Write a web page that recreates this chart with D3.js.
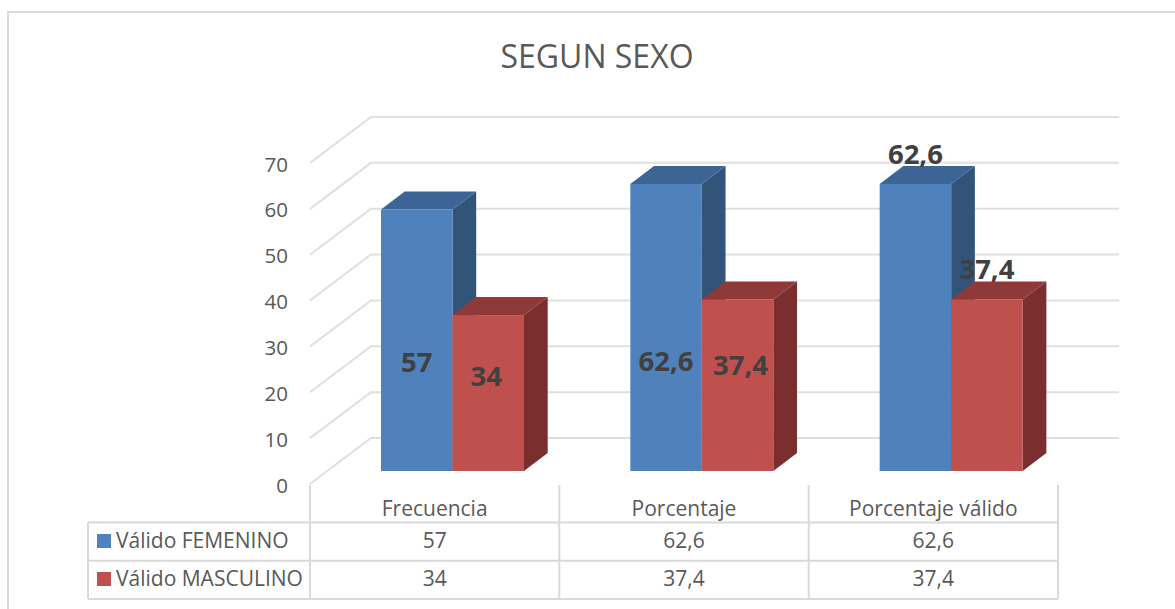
<!DOCTYPE html>
<html>
<head>
  <meta charset="UTF-8">
  <title>SEGUN SEXO</title>
  <script src="https://d3js.org/d3.v7.min.js"></script>
  <style>
    body { margin: 0; padding: 0; background: #fff; font-family: "Open Sans", sans-serif; }
    svg { display: block; }
    .soft { filter: blur(0.45px); }
    .grid-line { stroke: #dfdfdf; stroke-width: 2; fill: none; }
    .table-line { stroke: #d9d9d9; stroke-width: 2; fill: none; }
    .tick-label { font-size: 20.5px; fill: #595959; }
    .cell-label { font-size: 21px; fill: #595959; }
    .bar-label { font-size: 27.5px; font-weight: 700; fill: #404040; }
  </style>
</head>
<body>
  <svg id="chart" width="1175" height="609"></svg>

  <script>
    const categories = ["Frecuencia", "Porcentaje", "Porcentaje válido"];
    const seriesNames = ["Válido FEMENINO", "Válido MASCULINO"];
    const femenino = [57, 62.6, 62.6];
    const masculino = [34, 37.4, 37.4];
    const yTicks = [0, 10, 20, 30, 40, 50, 60, 70];

    const seriesColors = [
      { front: "#4f81bd", top: "#3c6494", side: "#325479" },
      { front: "#c0504d", top: "#8e3a38", side: "#7a2f2e" }
    ];

    // etiquetas movidas a mano en el original: [dx desde el centro, dy desde el tope de la barra]
    const labelNudge = [
      [[0, 162], [-2, 71]],
      [[0, 187], [3, 76]],
      [[0, -20], [0, -20]]
    ];

    const svg = d3.select("#chart");
    const fmt = v => String(v).replace(".", ",");

    // marco exterior, sale por la derecha y por abajo
    svg.append("path")
      .attr("d", "M8,609V12H1175")
      .attr("fill", "none")
      .attr("stroke", "#d9d9d9")
      .attr("stroke-width", 2);

    svg.append("text")
      .attr("x", 597)
      .attr("y", 68)
      .attr("text-anchor", "middle")
      .style("font-size", "32px")
      .style("fill", "#595959")
      .text("SEGUN SEXO");

    const g = svg.append("g").attr("class", "soft");

    const x = d3.scaleBand().domain(categories).range([310, 1058]);
    const xInner = d3.scaleBand().domain(d3.range(2)).range([71, 214]);
    const y = d3.scaleLinear().domain([0, 70]).range([484, 163]);

    const wallDx = 61, wallDy = -46;   // fondo de la pared
    const barLift = -13;               // barras sentadas en medio del suelo
    const depthX = 23.7, depthY = -18; // profundidad de cada barra

    // rejilla: diagonal por la pared izquierda y horizontal por el fondo
    g.selectAll("path.grid-line")
      .data(yTicks)
      .enter()
      .append("path")
      .attr("class", "grid-line")
      .attr("d", d => `M${x.range()[0]},${y(d)}l${wallDx},${wallDy}H1119`);

    svg.selectAll("text.y-tick")
      .data(yTicks)
      .enter()
      .append("text")
      .attr("class", "tick-label y-tick")
      .attr("x", 288)
      .attr("y", d => y(d) + 8.5)
      .attr("text-anchor", "end")
      .text(d => d);

    const bars = [];
    categories.forEach((cat, i) => {
      [femenino[i], masculino[i]].forEach((value, s) => {
        bars.push({ cat, i, s, value });
      });
    });

    const barG = g.selectAll("g.bar")
      .data(bars)
      .enter()
      .append("g")
      .attr("class", "bar");

    const barX = d => x(d.cat) + xInner(d.s);
    const barTop = d => y(d.value) + barLift;
    const barBase = y(0) + barLift;
    const bw = xInner.bandwidth();

    barG.append("path")
      .attr("fill", d => seriesColors[d.s].side)
      .attr("d", d => `M${barX(d) + bw},${barTop(d)}l${depthX},${depthY}V${barBase + depthY}l${-depthX},${-depthY}Z`);

    barG.append("path")
      .attr("fill", d => seriesColors[d.s].top)
      .attr("d", d => `M${barX(d)},${barTop(d)}l${depthX},${depthY}h${bw}l${-depthX},${-depthY}Z`);

    barG.append("rect")
      .attr("fill", d => seriesColors[d.s].front)
      .attr("x", barX)
      .attr("y", barTop)
      .attr("width", bw)
      .attr("height", d => barBase - barTop(d));

    svg.selectAll("text.bar-label")
      .data(bars)
      .enter()
      .append("text")
      .attr("class", "bar-label")
      .attr("text-anchor", "middle")
      .attr("x", d => barX(d) + bw / 2 + labelNudge[d.i][d.s][0])
      .attr("y", d => barTop(d) + labelNudge[d.i][d.s][1])
      .text(d => fmt(d.value));

    // tabla de datos bajo el eje
    const rowY = [522.5, 560.7, 599];
    const table = g.append("g");
    x.domain().forEach(c => {
      table.append("line").attr("class", "table-line")
        .attr("x1", x(c)).attr("x2", x(c)).attr("y1", 485).attr("y2", 599);
    });
    table.append("line").attr("class", "table-line")
      .attr("x1", x.range()[1]).attr("x2", x.range()[1]).attr("y1", 485).attr("y2", 599);
    table.append("line").attr("class", "table-line")
      .attr("x1", 88).attr("x2", 88).attr("y1", 522.5).attr("y2", 599);
    rowY.forEach(ry => {
      table.append("line").attr("class", "table-line")
        .attr("x1", 88).attr("x2", x.range()[1]).attr("y1", ry).attr("y2", ry);
    });

    svg.selectAll("text.cat")
      .data(categories)
      .enter()
      .append("text")
      .attr("class", "cell-label cat")
      .attr("text-anchor", "middle")
      .attr("x", d => x(d) + x.bandwidth() / 2)
      .attr("y", 516)
      .text(d => d);

    [femenino, masculino].forEach((vals, s) => {
      const baseline = s === 0 ? 548 : 586;
      svg.selectAll(`text.val-${s}`)
        .data(vals)
        .enter()
        .append("text")
        .attr("class", `cell-label val-${s}`)
        .attr("text-anchor", "middle")
        .attr("x", (d, i) => x(categories[i]) + x.bandwidth() / 2)
        .attr("y", baseline)
        .text(d => fmt(d));

      svg.append("rect")
        .attr("x", 97)
        .attr("y", baseline - 14)
        .attr("width", 14)
        .attr("height", 14)
        .attr("fill", seriesColors[s].front);

      svg.append("text")
        .attr("class", "cell-label")
        .attr("x", 116)
        .attr("y", baseline)
        .text(seriesNames[s]);
    });
  </script>
</body>
</html>
